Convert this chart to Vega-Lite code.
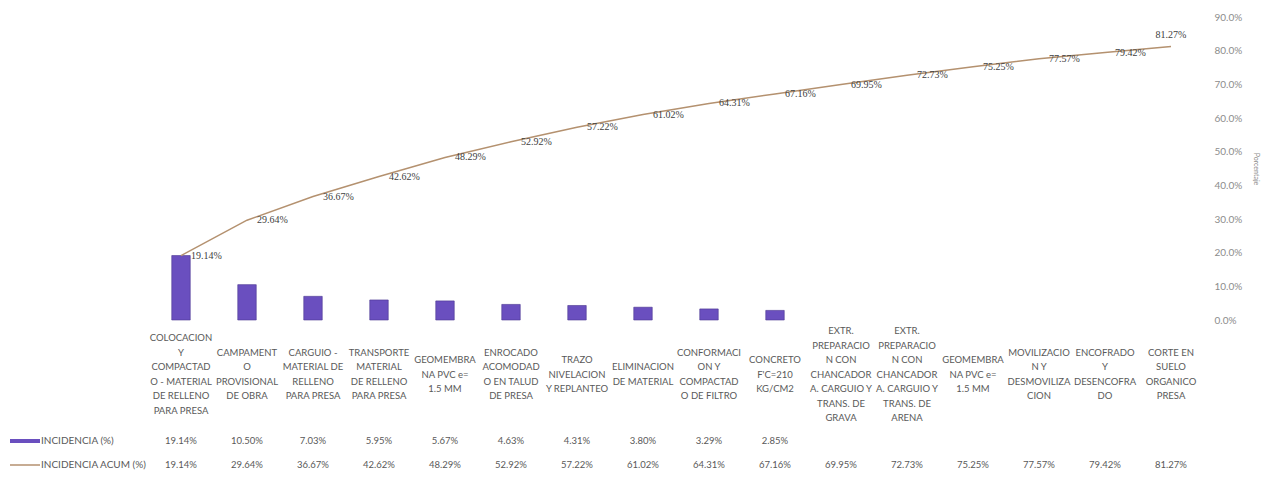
{
  "$schema": "https://vega.github.io/schema/vega-lite/v6.json",
  "padding": {"left": 10, "top": 12, "right": 4, "bottom": 0},
  "spacing": 0,
  "bounds": "flush",
  "background": "white",
  "data": {
    "values": [
      {"orden": 1, "categoria": "COLOCACION\nY\nCOMPACTAD\nO - MATERIAL\nDE RELLENO\nPARA PRESA", "incidencia": 0.1914, "acumulado": 0.1914},
      {"orden": 2, "categoria": "CAMPAMENT\nO\nPROVISIONAL\nDE OBRA", "incidencia": 0.1050, "acumulado": 0.2964},
      {"orden": 3, "categoria": "CARGUIO -\nMATERIAL DE\nRELLENO\nPARA PRESA", "incidencia": 0.0703, "acumulado": 0.3667},
      {"orden": 4, "categoria": "TRANSPORTE\nMATERIAL\nDE RELLENO\nPARA PRESA", "incidencia": 0.0595, "acumulado": 0.4262},
      {"orden": 5, "categoria": "GEOMEMBRA\nNA PVC e=\n1.5 MM", "incidencia": 0.0567, "acumulado": 0.4829},
      {"orden": 6, "categoria": "ENROCADO\nACOMODAD\nO EN TALUD\nDE PRESA", "incidencia": 0.0463, "acumulado": 0.5292},
      {"orden": 7, "categoria": "TRAZO\nNIVELACION\nY REPLANTEO", "incidencia": 0.0431, "acumulado": 0.5722},
      {"orden": 8, "categoria": "ELIMINACION\nDE MATERIAL", "incidencia": 0.0380, "acumulado": 0.6102},
      {"orden": 9, "categoria": "CONFORMACI\nON Y\nCOMPACTAD\nO DE FILTRO", "incidencia": 0.0329, "acumulado": 0.6431},
      {"orden": 10, "categoria": "CONCRETO\nF'C=210\nKG/CM2", "incidencia": 0.0285, "acumulado": 0.6716},
      {"orden": 11, "categoria": "EXTR.\nPREPARACIO\nN CON\nCHANCADOR\nA. CARGUIO Y\nTRANS. DE\nGRAVA", "incidencia": null, "acumulado": 0.6995},
      {"orden": 12, "categoria": "EXTR.\nPREPARACIO\nN CON\nCHANCADOR\nA. CARGUIO Y\nTRANS. DE\nARENA", "incidencia": null, "acumulado": 0.7273},
      {"orden": 13, "categoria": "GEOMEMBRA\nNA PVC e=\n1.5 MM", "incidencia": null, "acumulado": 0.7525},
      {"orden": 14, "categoria": "MOVILIZACIO\nN Y\nDESMOVILIZA\nCION", "incidencia": null, "acumulado": 0.7757},
      {"orden": 15, "categoria": "ENCOFRADO\nY\nDESENCOFRA\nDO", "incidencia": null, "acumulado": 0.7942},
      {"orden": 16, "categoria": "CORTE EN\nSUELO\nORGANICO\nPRESA", "incidencia": null, "acumulado": 0.8127}
    ]
  },
  "resolve": {"scale": {"color": "independent"}, "legend": {"color": "independent"}},
  "vconcat": [
    {
      "width": 1056,
      "height": 303,
      "encoding": {
        "x": {"field": "orden", "type": "ordinal", "axis": null, "scale": {"paddingInner": 0, "paddingOuter": 0}}
      },
      "layer": [
        {
          "mark": {"type": "bar", "width": {"band": 0.28}, "fill": "#6a4fbf", "stroke": "#4a3590", "strokeWidth": 0.6},
          "encoding": {
            "y": {
              "field": "incidencia", "type": "quantitative",
              "scale": {"domain": [0, 0.9], "nice": false},
              "axis": {
                "orient": "right", "values": [0, 0.1, 0.2, 0.3, 0.4, 0.5, 0.6, 0.7, 0.8, 0.8999999],
                "tickCount": 12,
                "format": ".1%", "domain": false, "ticks": false, "grid": false,
                "labelPadding": 10, "labelColor": "#8c8c8c", "labelFontSize": 10, "labelFont": "Lato",
                "title": "Porcentaje", "titleFontSize": 7, "titleColor": "#8c8c8c", "titleFontWeight": "normal",
                "titleFont": "Lato", "titlePadding": 11
              }
            }
          }
        },
        {
          "mark": {"type": "line", "color": "#b4916f", "strokeWidth": 1.5},
          "encoding": {"y": {"field": "acumulado", "type": "quantitative"}}
        },
        {
          "transform": [{"filter": "datum.orden < 16"}],
          "mark": {"type": "text", "align": "left", "baseline": "middle", "dx": 10, "font": "Liberation Serif", "fontSize": 10, "color": "#404040"},
          "encoding": {
            "y": {"field": "acumulado", "type": "quantitative"},
            "text": {"field": "acumulado", "type": "quantitative", "format": ".2%"}
          }
        },
        {
          "transform": [{"filter": "datum.orden == 16"}],
          "mark": {"type": "text", "align": "center", "baseline": "bottom", "dy": -6, "font": "Liberation Serif", "fontSize": 10, "color": "#404040"},
          "encoding": {
            "y": {"field": "acumulado", "type": "quantitative"},
            "text": {"field": "acumulado", "type": "quantitative", "format": ".2%"}
          }
        }
      ]
    },
    {
      "width": 1056,
      "height": 109,
      "mark": {
        "type": "text", "lineBreak": "\n", "lineHeight": 14.5, "baseline": "middle", "align": "center",
        "font": "Lato", "fontSize": 9.5, "color": "#595959",
        "dy": {"expr": "-(length(split(datum.categoria, '\\n')) - 1) * 7.25"}
      },
      "encoding": {
        "x": {"field": "orden", "type": "ordinal", "axis": null, "scale": {"paddingInner": 0, "paddingOuter": 0}},
        "text": {"field": "categoria", "type": "nominal"}
      }
    },
    {
      "width": 1056,
      "height": 48,
      "transform": [
        {"fold": ["incidencia", "acumulado"], "as": ["serie", "valor"]},
        {"filter": "datum.valor != null"}
      ],
      "encoding": {
        "x": {"field": "orden", "type": "ordinal", "axis": null, "scale": {"paddingInner": 0, "paddingOuter": 0}},
        "y": {"field": "serie", "type": "nominal", "axis": null, "scale": {"domain": ["incidencia", "acumulado"], "paddingInner": 0, "paddingOuter": 0}}
      },
      "layer": [
        {
          "mark": {"type": "text", "baseline": "middle", "align": "center", "font": "Lato", "fontSize": 9.5, "color": "#595959"},
          "encoding": {
            "text": {"field": "valor", "type": "quantitative", "format": ".2%"}
          }
        },
        {
          "mark": {"type": "point", "filled": true, "opacity": 0},
          "encoding": {
            "color": {
              "field": "serie", "type": "nominal",
              "scale": {"domain": ["incidencia", "acumulado"], "range": ["#6a4fbf", "#b4916f"]},
              "legend": {
                "orient": "left", "offset": 1, "title": null, "padding": 0,
                "symbolType": "M-1,-0.13H1V0.13H-1Z", "symbolSize": 900, "symbolStrokeWidth": 0,
                "symbolOpacity": 1,
                "clipHeight": 24, "rowPadding": 0, "labelOffset": 1,
                "labelFont": "Lato", "labelFontSize": 10, "labelColor": "#595959",
                "labelExpr": "datum.value == 'incidencia' ? 'INCIDENCIA (%)' : 'INCIDENCIA ACUM (%)'",
                "encode": {
                  "symbols": {
                    "update": {
                      "shape": {"signal": "datum.value == 'incidencia' ? 'M-1,-0.13H1V0.13H-1Z' : 'M-1,-0.05H1V0.05H-1Z'"},
                      "opacity": {"value": 1}
                    }
                  }
                }
              }
            }
          }
        }
      ]
    }
  ],
  "config": {"view": {"stroke": null}, "font": "Lato"}
}
